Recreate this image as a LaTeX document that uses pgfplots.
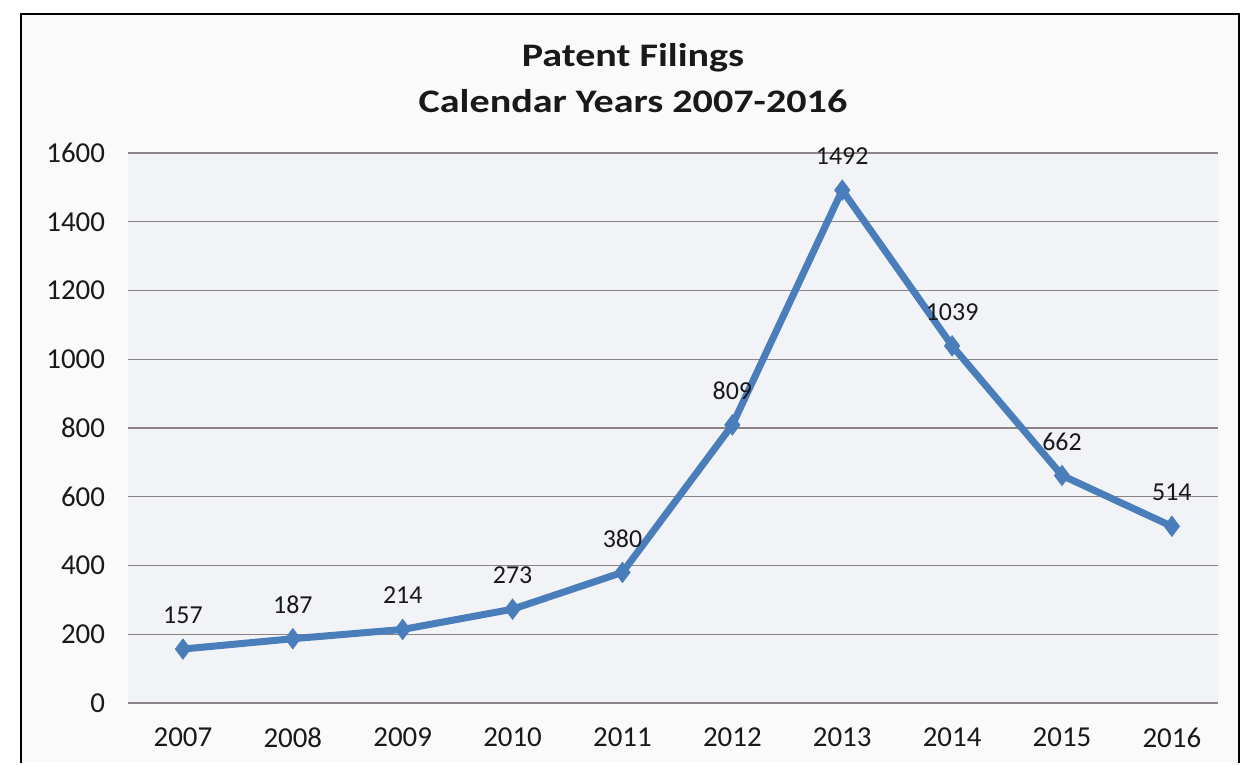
\documentclass[border=0pt]{standalone}
\usepackage{fontspec}
\setmainfont{Carlito}
\usepackage{pgfplots}
\pgfplotsset{compat=1.18}

\definecolor{lineblue}{RGB}{74,126,187}
\definecolor{gridcol}{RGB}{140,132,132}
\definecolor{plotbg}{RGB}{242,243,247}
\definecolor{pagebg}{RGB}{250,250,250}
\definecolor{txt}{RGB}{25,25,25}

\begin{document}
\begin{tikzpicture}[x=1bp,y=1bp]
% page size: 1248 x 763 px at 0.5 bp per px
\fill[white] (0,0) rectangle (624,381.5);
\fill[pagebg] (11,0) rectangle (619,374);
\draw[black, line width=1bp] (10.5,0) -- (10.5,374.5) -- (619.5,374.5) -- (619.5,0);

\node[font=\fontsize{16.5}{19}\selectfont\bfseries, text=txt, xscale=1.22, transform shape] at (316.5,352.5) {Patent Filings};
\node[font=\fontsize{16.5}{19}\selectfont\bfseries, text=txt, xscale=1.22, transform shape] at (316.5,331) {Calendar Years 2007-2016};

\begin{axis}[
    at={(64bp,30bp)}, anchor=south west,
    scale only axis,
    width=545bp, height=275bp,
    xmin=-0.5, xmax=9.42,
    ymin=0, ymax=1600,
    ytick={0,200,...,1600},
    xtick={0,...,9},
    xticklabels={2007,2008,2009,2010,2011,2012,2013,2014,2015,2016},
    axis line style={draw=none},
    major tick length=0pt,
    ymajorgrids=true,
    grid style={gridcol, line width=0.6bp},
    axis background/.style={fill=plotbg},
    tick label style={font=\fontsize{14.5}{17}\selectfont, text=txt},
    /pgf/number format/assume math mode=true,
    /pgf/number format/1000 sep={},
    yticklabel style={xshift=-8bp},
    xticklabel style={yshift=-9bp},
    clip=false,
]
\addplot[
    lineblue, line width=3.5bp,
    mark=diamond*, mark size=5bp,
    mark options={fill=lineblue, draw=lineblue, line width=0.5bp},
    nodes near coords,
    every node near coord/.append style={
        font=\fontsize{13}{15}\selectfont, text=txt, anchor=center, yshift=17bp},
] coordinates {
    (0,157) (1,187) (2,214) (3,273) (4,380)
    (5,809) (6,1492) (7,1039) (8,662) (9,514)
};
\end{axis}
\end{tikzpicture}
\end{document}
